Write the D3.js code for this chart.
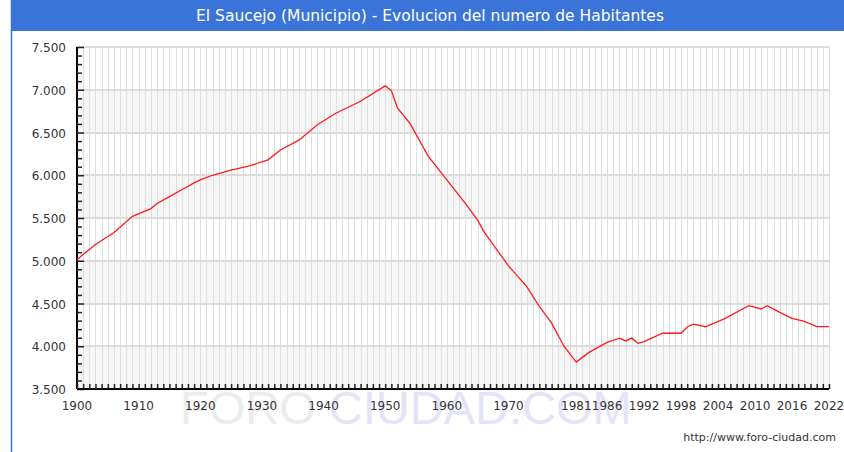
<!DOCTYPE html>
<html>
<head>
<meta charset="utf-8">
<script src="https://cdn.jsdelivr.net/npm/d3@7"></script>
<style>
  body { margin: 0; background: #fff; }
  svg { display: block; }
</style>
</head>
<body>
<script>
// population values (year, inhabitants)
var years  = [1900,1903,1906,1909,1912,1913,1915,1917,1919,1920,1922,1925,1928,1931,1933,1936,1939,1942,1946,1950,
              1951,1952,1954,1957,1960,1963,1965,1966,1970,1973,1975,1977,1979,1981,1983,1986,1988,1989,1990,1991,
              1992,1995,1998,1999,2000,2002,2005,2009,2011,2012,2014,2016,2018,2020,2022];
var values = [5015,5190,5330,5520,5610,5670,5750,5830,5910,5945,6000,6060,6110,6180,6295,6410,6590,6725,6865,7045,
              6990,6785,6610,6220,5945,5670,5475,5340,4940,4695,4465,4270,4000,3815,3925,4045,4095,4062,4095,4035,
              4055,4152,4152,4225,4258,4228,4320,4475,4436,4475,4397,4327,4290,4229,4229];
var xTickYears = [1900,1910,1920,1930,1940,1950,1960,1970,1981,1986,1992,1998,2004,2010,2016,2022];
var yTickValues = [3500,4000,4500,5000,5500,6000,6500,7000,7500];
var title = "El Saucejo (Municipio) - Evolucion del numero de Habitantes";

var W = 844, H = 452;
var plotL = 77, plotR = 829, plotT = 47, plotB = 389;

var svg = d3.select("body").append("svg")
  .attr("width", W)
  .attr("height", H);

var x = d3.scaleLinear().domain([1900, 2022]).range([plotL, plotR]);
var y = d3.scaleLinear().domain([3500, 7500]).range([plotB, plotT]);

// frame + title bar
svg.append("rect")
  .attr("x", 11.5).attr("y", 0.5)
  .attr("width", W).attr("height", H + 10)
  .attr("fill", "#fff").attr("stroke", "#3a74d8").attr("stroke-width", 1.5);
svg.append("rect")
  .attr("x", 11).attr("y", 0)
  .attr("width", W - 11).attr("height", 31)
  .attr("fill", "#3a74d8");
svg.append("text")
  .attr("x", 430).attr("y", 21)
  .attr("text-anchor", "middle")
  .attr("fill", "#fff")
  .style("font-family", "DejaVu Sans")
  .style("font-size", "15.5px")
  .text(title);

// alternating bands
var bands = svg.append("g");
for (var i = 0; i < yTickValues.length - 1; i++) {
  if (i % 2 === 0) {
    bands.append("rect")
      .attr("x", plotL).attr("y", y(yTickValues[i + 1]))
      .attr("width", plotR - plotL)
      .attr("height", y(yTickValues[i]) - y(yTickValues[i + 1]))
      .attr("fill", "#f6f6f6");
  }
}

// vertical grid, one per year
svg.append("g")
  .selectAll("line")
  .data(d3.range(1901, 2023))
  .enter().append("line")
  .attr("x1", function (d) { return Math.round(x(d)) + 0.5; })
  .attr("x2", function (d) { return Math.round(x(d)) + 0.5; })
  .attr("y1", plotT).attr("y2", plotB)
  .attr("stroke", "#dedede").attr("stroke-width", 1);

// horizontal grid
svg.append("g")
  .selectAll("line")
  .data(yTickValues.slice(1))
  .enter().append("line")
  .attr("x1", plotL).attr("x2", plotR)
  .attr("y1", function (d) { return Math.round(y(d)); })
  .attr("y2", function (d) { return Math.round(y(d)); })
  .attr("stroke", "#dcdcdc").attr("stroke-width", 2);

// watermark
var wm = svg.append("text")
  .attr("x", 180).attr("y", 424)
  .style("font-family", "Liberation Sans")
  .style("font-size", "47px");
wm.append("tspan").attr("fill", "#ececec").text("FORO ");
wm.append("tspan").attr("fill", "#e4e4f9").text("CIUDAD.COM");

// y axis: ticks inside, every 100
var yAxis = d3.axisRight(y)
  .tickValues(d3.range(3500, 7501, 100))
  .tickSize(5)
  .tickFormat("");
svg.append("g")
  .attr("transform", "translate(" + plotL + ",0)")
  .call(yAxis)
  .call(function (g) {
    g.select(".domain").attr("stroke", "#000").attr("stroke-width", 2).attr("d", "M0," + plotT + "V" + plotB);
    g.selectAll(".tick line").attr("stroke", "#222").attr("stroke-width", 1.5)
      .attr("x2", function (d) { return d % 500 === 0 ? 7 : 5; });
  });

svg.append("g")
  .selectAll("text")
  .data(yTickValues)
  .enter().append("text")
  .attr("x", 66)
  .attr("y", function (d) { return y(d) + 5; })
  .attr("text-anchor", "end")
  .attr("fill", "#333")
  .style("font-family", "DejaVu Sans")
  .style("font-size", "12px")
  .text(function (d) { return d3.format(",")(d).replace(",", "."); });

// x axis: ticks inside, every year
var xAxis = d3.axisTop(x)
  .tickValues(d3.range(1900, 2023))
  .tickSize(5)
  .tickFormat("");
svg.append("g")
  .attr("transform", "translate(0," + plotB + ")")
  .call(xAxis)
  .call(function (g) {
    g.select(".domain").attr("stroke", "#000").attr("stroke-width", 2).attr("d", "M" + plotL + ",0H" + plotR);
    g.selectAll(".tick line").attr("stroke", "#222").attr("stroke-width", 1.5);
  });

svg.append("g")
  .selectAll("text")
  .data(xTickYears)
  .enter().append("text")
  .attr("x", function (d) { return x(d); })
  .attr("y", 410)
  .attr("text-anchor", "middle")
  .attr("fill", "#333")
  .style("font-family", "DejaVu Sans")
  .style("font-size", "12px")
  .text(function (d) { return d; });

// population line
var line = d3.line()
  .x(function (d, i) { return x(years[i]); })
  .y(function (d) { return y(d); });
svg.append("path")
  .datum(values)
  .attr("fill", "none")
  .attr("stroke", "#ff1a1a")
  .attr("stroke-width", 1.3)
  .attr("d", line);

// source url
svg.append("text")
  .attr("x", 836).attr("y", 441)
  .attr("text-anchor", "end")
  .attr("fill", "#333")
  .style("font-family", "DejaVu Sans")
  .style("font-size", "11px")
  .text("http://www.foro-ciudad.com");
</script>
</body>
</html>
